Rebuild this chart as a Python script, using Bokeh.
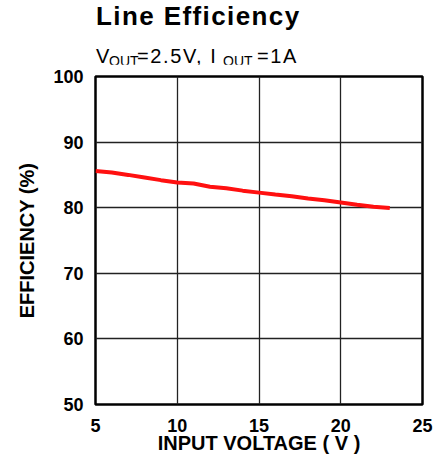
from bokeh.plotting import figure
from bokeh.models import FixedTicker, Range1d, Div
from bokeh.layouts import column
from bokeh.embed import file_html
from bokeh.resources import INLINE

# Data
vin = [5, 6, 7, 8, 9, 10, 11, 12, 13, 14, 15, 16, 17, 18, 19, 20, 21, 22, 23]
efficiency = [85.6, 85.35, 85.0, 84.6, 84.2, 83.85, 83.7, 83.2, 82.95, 82.6,
              82.3, 82.0, 81.75, 81.4, 81.15, 80.8, 80.45, 80.15, 79.95]
x_ticks = [5, 10, 15, 20, 25]
y_ticks = [50, 60, 70, 80, 90, 100]
title_text = "Line Efficiency"
subtitle_parts = [("V", False), ("OUT", True), ("=2.5V, I", False), ("OUT", True), ("=1A", False)]

FONT = "Liberation Sans"

p = figure(width=434, height=404, output_backend="svg", toolbar_location=None,
           x_range=Range1d(5, 25), y_range=Range1d(50, 100),
           frame_width=327, frame_height=328,
           min_border_left=95, min_border_right=12, min_border_top=12, min_border_bottom=64)
p.background_fill_color = "white"
p.border_fill_color = "white"
p.outline_line_color = "black"
p.outline_line_width = 2.5

p.xaxis.ticker = FixedTicker(ticks=x_ticks)
p.yaxis.ticker = FixedTicker(ticks=y_ticks)
for ax in (p.xaxis, p.yaxis):
    ax.axis_line_color = None
    ax.major_tick_line_color = None
    ax.minor_tick_line_color = None
    ax.major_label_text_font = FONT
    ax.major_label_text_font_style = "bold"
    ax.major_label_text_font_size = "18px"
    ax.major_label_text_color = "black"
    ax.axis_label_text_font = FONT
    ax.axis_label_text_font_style = "bold"
    ax.axis_label_text_color = "black"
p.xaxis.major_label_standoff = 8
p.yaxis.major_label_standoff = 6
p.xaxis.axis_label = "INPUT VOLTAGE ( V )"
p.xaxis.axis_label_text_font_size = "20px"
p.xaxis.axis_label_standoff = -3
p.yaxis.axis_label = "EFFICIENCY (%)"
p.yaxis.axis_label_text_font_size = "20px"
p.yaxis.axis_label_standoff = 12

p.xgrid.grid_line_color = "#222222"
p.ygrid.grid_line_color = "#222222"
p.xgrid.grid_line_width = 1.3
p.ygrid.grid_line_width = 1.3

p.line(vin, efficiency, line_color="#ff1010", line_width=4)

# Title and subtitle as HTML (subscripts), absolutely positioned spans
sub_left = [96, 109, 137, 223, 257]
spans = []
for (t, is_sub), left in zip(subtitle_parts, sub_left):
    if is_sub:
        spans.append(f'<span style="position:absolute;left:{left}px;top:53.5px;white-space:nowrap;'
                     f'font-size:14px;line-height:14px;">{t}</span>')
    else:
        spans.append(f'<span style="position:absolute;left:{left}px;top:45.5px;white-space:nowrap;'
                     f'font-size:20px;line-height:20px;letter-spacing:1.6px;">{t}</span>')
html = (f'<div style="position:relative;width:434px;height:64px;font-family:\'{FONT}\';color:black;">'
        f'<span style="position:absolute;left:96px;top:3px;font-size:26px;line-height:26px;'
        f'font-weight:bold;white-space:nowrap;letter-spacing:1.4px;">{title_text}</span>'
        + "".join(spans) + '</div>')
header = Div(text=html, width=434, height=64, margin=(0, 0, 0, 0))

layout = column(header, p, spacing=0)
open("out.html", "w").write(file_html(layout, INLINE))
